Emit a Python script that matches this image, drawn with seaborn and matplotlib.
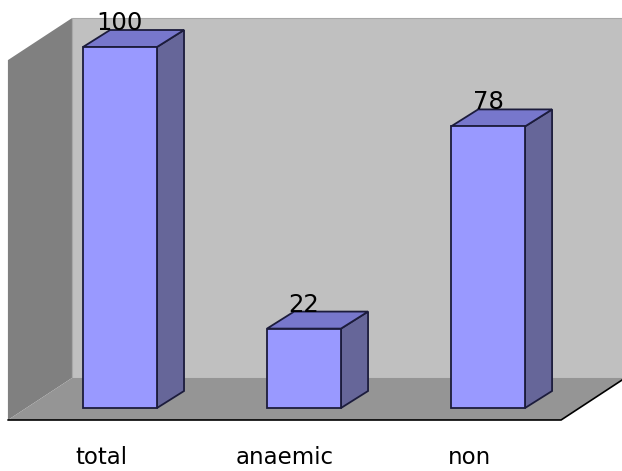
import matplotlib
matplotlib.use("Agg")
import matplotlib.pyplot as plt
from matplotlib.patches import Polygon
from matplotlib.transforms import offset_copy
import seaborn as sns
import pandas as pd

# Data
categories = ["total", "anaemic", "non"]
counts = [100, 22, 78]

# Colours for the pseudo-3D look
FRONT = "#9999FF"
SIDE = "#666699"
TOP = "#7777CC"
EDGE = "#1c1c3c"
BACK_WALL = "#C0C0C0"
SIDE_WALL = "#808080"
FLOOR = "#959595"

# Depth offsets (data units) for bars and for the chart box
BAR_DX, BAR_DY = 0.147, 4.71
BOX_DX, BOX_DY = 0.348, 11.63
FLOOR_Y = -3.32
WALL_X = -0.609
WALL_TOP = 108.0
FLOOR_RIGHT = 2.397

sns.set_theme(style="white")
plt.rcParams["font.family"] = ["DejaVu Sans"]

fig = plt.figure(figsize=(6.22, 4.71), dpi=100)
ax = fig.add_axes([0, 0, 1, 1])

df = pd.DataFrame({"category": categories, "count": counts})
sns.barplot(data=df, x="category", y="count", order=categories, color=FRONT,
            saturation=1, width=0.402, edgecolor=EDGE, linewidth=1.3,
            ax=ax, zorder=5)

ax.set_xlim(-0.652, 2.728)
ax.set_ylim(-17.45, 113.02)
ax.axis("off")

# Chart box: left wall, floor, back wall
bx0 = WALL_X + BOX_DX
by0 = FLOOR_Y + BOX_DY
ax.add_patch(Polygon([(bx0, by0), (3.0, by0), (3.0, WALL_TOP), (bx0, WALL_TOP)],
                     closed=True, facecolor=BACK_WALL, edgecolor="#a8a8a8",
                     linewidth=0.8, zorder=1))
ax.add_patch(Polygon([(WALL_X, FLOOR_Y), (bx0, by0), (bx0, WALL_TOP),
                      (WALL_X, WALL_TOP - BOX_DY)],
                     closed=True, facecolor=SIDE_WALL, edgecolor="none", zorder=1))
ax.add_patch(Polygon([(WALL_X, FLOOR_Y), (FLOOR_RIGHT, FLOOR_Y),
                      (FLOOR_RIGHT + BOX_DX, by0), (bx0, by0)],
                     closed=True, facecolor=FLOOR, edgecolor="none", zorder=2))
ax.plot([WALL_X, FLOOR_RIGHT, FLOOR_RIGHT + BOX_DX],
        [FLOOR_Y, FLOOR_Y, by0], color="black", linewidth=1.2, zorder=3,
        solid_joinstyle="miter")

# Side and top faces of every bar, built from the drawn bar rectangles
for bar, label in zip(ax.patches[:len(counts)], counts):
    x0 = bar.get_x()
    w = bar.get_width()
    h = bar.get_height()
    x1 = x0 + w
    side = [(x1, 0), (x1 + BAR_DX, BAR_DY), (x1 + BAR_DX, h + BAR_DY), (x1, h)]
    top = [(x0, h), (x1, h), (x1 + BAR_DX, h + BAR_DY), (x0 + BAR_DX, h + BAR_DY)]
    ax.add_patch(Polygon(side, closed=True, facecolor=SIDE, edgecolor=EDGE,
                         linewidth=1.3, zorder=4))
    ax.add_patch(Polygon(top, closed=True, facecolor=TOP, edgecolor=EDGE,
                         linewidth=1.3, zorder=4))
    ax.text(x0 + w / 2, h + BAR_DY, f"{label}", ha="center", va="baseline",
            fontsize=17.5, color="black", zorder=6)

# Category labels beneath the floor
shifted = offset_copy(ax.transData, fig=fig, x=-19, y=0, units="dots")
for i, name in enumerate(categories):
    ax.text(i, -15.5, name, ha="center", va="baseline", fontsize=16.5,
            color="black", transform=shifted)

fig.savefig("out.png", dpi=100)
